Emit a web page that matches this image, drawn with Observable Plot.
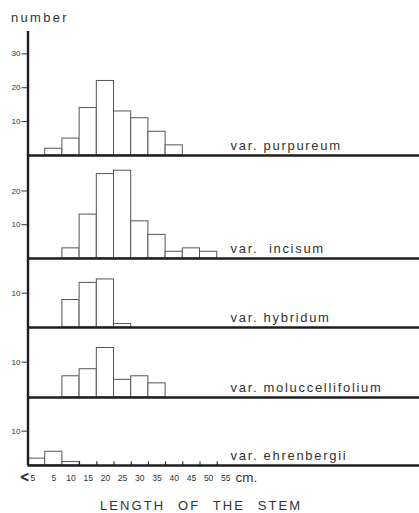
<!DOCTYPE html>
<html><head><meta charset="utf-8">
<script src="https://cdn.jsdelivr.net/npm/d3@7"></script>
<script src="https://cdn.jsdelivr.net/npm/@observablehq/plot@0.6"></script>
<style>
body{margin:0;background:#fff;width:419px;overflow:hidden;font-family:"Liberation Sans",Arial,sans-serif;color:#333}
#ylabel{height:31px;box-sizing:border-box;padding:10.7px 0 0 11px;font-size:13px;line-height:13px;letter-spacing:2.3px}
#caption{height:26px;box-sizing:border-box;padding:12px 0 0 100px;font-size:13px;line-height:13px;letter-spacing:2.1px;word-spacing:7px;white-space:pre}
</style></head>
<body>
<div id="ylabel">number</div>
<div id="panels"></div>
<div id="caption">LENGTH OF THE STEM</div>
<script>
// bins of stem length (cm)
const binStart = [0,5,10,15,20,25,30,35,40,45,50,55];
const binLabels = ["<5","5","10","15","20","25","30","35","40","45","50","55"];
const varieties = ["var. purpureum","var.  incisum","var. hybridum","var. moluccellifolium","var. ehrenbergii"];
const purpureum        = [0,2,5,14,22,13,11,7,3,0,0,0];
const incisum          = [0,0,3,13,25,26,11,7,2,3,2,0];
const hybridum         = [0,0,8,13,14,1,0,0,0,0,0,0];
const moluccellifolium = [0,0,6,8,14,5,6,4,0,0,0,0];
const ehrenbergii      = [2,4,1,0,0,0,0,0,0,0,0,0];
const yTicks = [[10,20,30],[10,20],[10],[10],[10]];
const unit = "cm.";

const series = [purpureum, incisum, hybridum, moluccellifolium, ehrenbergii];
const binW = binStart[1] - binStart[0];

// layout
const heights = [124,103,69,70,68];
const yMax = [36.6,30.5,20.1,19.8,19.8];
const xDomain = [0,113.8];
const ink = "#1e1e1e";
const font = "'Liberation Sans', Arial, sans-serif";

const host = document.getElementById("panels");
series.forEach((counts, i) => {
  const last = i === series.length - 1;
  const rows = counts.map((c, k) => ({x1: binStart[k], x2: binStart[k] + binW, count: c})).filter(d => d.count > 0);
  const marks = [
    Plot.rectY(rows, {x1: "x1", x2: "x2", y: "count", fill: "white", stroke: "#555", strokeWidth: 1}),
    Plot.axisY({ticks: yTicks[i], label: null, tickSize: 6, tickPadding: 1.5, fontSize: 8, stroke: "#333", fill: "#333", strokeWidth: 1}),
    Plot.ruleY([0], {stroke: ink, strokeWidth: 2.6}),
    Plot.ruleX([0], {y1: 0, y2: yMax[i], stroke: ink, strokeWidth: 2.4}),
    Plot.text([varieties[i]], {text: d => d, frameAnchor: "bottom-left", dx: 202.5, dy: -5.5, lineAnchor: "bottom", textAnchor: "start", fontSize: 13, fill: "#333"})
  ];
  if (last) {
    const edgeTicks = binStart.slice(3);
    marks.push(
      Plot.ruleX(edgeTicks, {x: d => d, y1: 0, y2: 1.1, stroke: ink, strokeWidth: 1}),
      Plot.text(binStart.slice(1), {x: d => d + binW / 2, y: 0, text: (d, k) => binLabels[k + 1], dy: 13, lineAnchor: "middle", fontSize: 8.5, fill: "#333"}),
      Plot.text([binLabels[0]], {x: binStart[0], y: 0, text: d => d.slice(1), dx: 2.5, dy: 13, lineAnchor: "middle", textAnchor: "start", fontSize: 8.5, fill: "#333"}),
      Plot.text([binLabels[0]], {x: binStart[0], y: 0, text: d => d.slice(0, 1), dx: 0.8, dy: 12.5, lineAnchor: "middle", textAnchor: "end", fontSize: 14, fill: "#333", stroke: "#333", strokeWidth: 0.8}),
      Plot.text([unit], {x: binStart[binStart.length - 1] + binW, y: 0, text: d => d, dx: 1, dy: 16, lineAnchor: "bottom", textAnchor: "start", fontSize: 13.5, fill: "#333"})
    );
  }
  const svg = Plot.plot({
    width: 419,
    height: heights[i] + (last ? 22 : 0),
    marginLeft: 27.5, marginRight: 0, marginTop: 0, marginBottom: last ? 22 : 0,
    x: {domain: xDomain, axis: null},
    y: {domain: [0, yMax[i]], axis: null},
    style: {overflow: "visible", background: "transparent", fontFamily: font, color: "#333"},
    marks
  });
  svg.style.overflow = "visible";
  host.appendChild(svg);
});
// letter spacing for the variety labels
document.querySelectorAll("#panels svg text").forEach(t => {
  if (t.textContent.startsWith("var.")) t.setAttribute("letter-spacing", "1.7");
});
</script>
</body></html>
